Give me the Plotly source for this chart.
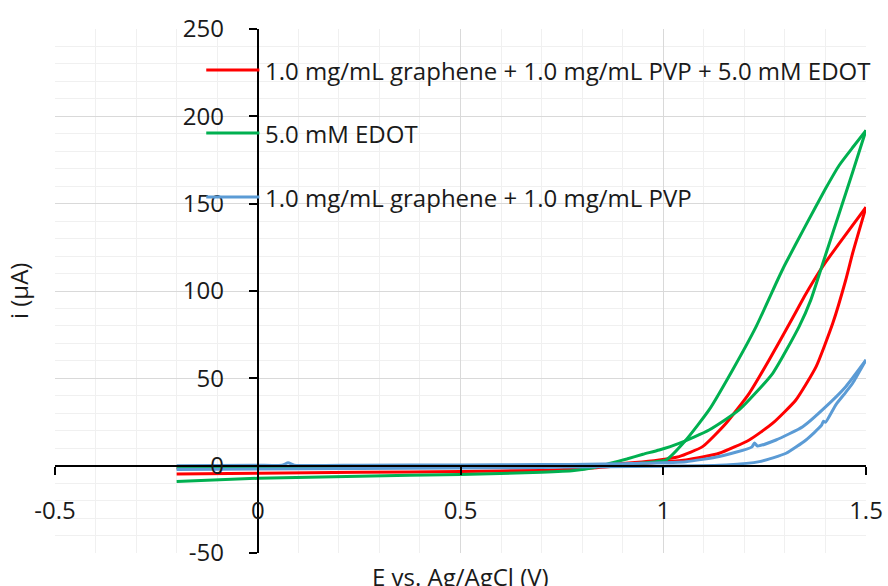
import plotly.graph_objects as go

# ---------------- data ----------------
names = [
    "1.0 mg/mL graphene + 1.0 mg/mL PVP + 5.0 mM EDOT",
    "5.0 mM EDOT",
    "1.0 mg/mL graphene + 1.0 mg/mL PVP",
]
colors = ["#FF0000", "#00B050", "#5B9BD5"]

# red: graphene + PVP + EDOT (forward then reverse sweep)
red_fwd_x = [-0.2, 0.0, 0.25, 0.5, 0.7, 0.8, 0.87, 0.93, 0.99, 1.056, 1.138, 1.212, 1.27, 1.327, 1.377, 1.418, 1.45, 1.467, 1.5]
red_fwd_y = [-4.8, -4.3, -3.8, -3.3, -2.7, -1.8, -0.5, 0.8, 2.0, 3.3, 7.1, 14.7, 24.3, 37.6, 56.7, 81.5, 106.3, 121.6, 148.0]
red_rev_x = [1.5, 1.434, 1.393, 1.372, 1.348, 1.319, 1.261, 1.212, 1.155, 1.097, 1.039, 0.99, 0.93, 0.87, 0.8, 0.6, 0.4, 0.2, 0.0, -0.2]
red_rev_y = [148.0, 127.3, 114.0, 106.3, 96.8, 84.5, 60.5, 41.4, 24.3, 10.9, 5.2, 3.3, 1.8, 0.8, 0.2, -0.2, -0.5, -0.8, -1.0, -1.3]

# green: EDOT only
green_fwd_x = [-0.2, 0.0, 0.25, 0.5, 0.7, 0.78, 0.83, 0.87, 0.91, 0.95, 0.99, 1.039, 1.113, 1.187, 1.27, 1.335, 1.364, 1.4, 1.434, 1.467, 1.5]
green_fwd_y = [-9.0, -7.2, -6.0, -5.0, -3.8, -2.8, -1.0, 1.4, 3.8, 6.5, 9.0, 12.8, 20.4, 31.9, 52.9, 79.6, 94.9, 120.5, 144.5, 168.0, 192.0]
green_rev_x = [1.5, 1.47, 1.434, 1.4, 1.35, 1.3, 1.282, 1.229, 1.171, 1.113, 1.056, 1.007, 0.95, 0.88, 0.8, 0.5, 0.25, 0.0, -0.2]
green_rev_y = [192.0, 183.0, 172.0, 158.5, 137.0, 115.0, 106.3, 79.6, 54.8, 31.9, 14.7, 3.3, 1.5, 0.3, -0.3, -0.8, -1.0, -1.0, -1.2]

# blue: graphene + PVP
blue_fwd_x = [-0.2, 0.0, 0.25, 0.5, 0.7, 0.85, 1.0, 1.155, 1.237, 1.303, 1.352, 1.39, 1.395, 1.4, 1.426, 1.45, 1.467, 1.5]
blue_fwd_y = [-2.2, -1.9, -1.6, -1.3, -1.0, -0.6, -0.3, 0.4, 2.3, 7.1, 14.7, 23.0, 25.5, 24.8, 35.0, 42.0, 47.2, 60.5]
blue_rev_x = [1.5, 1.45, 1.401, 1.344, 1.278, 1.232, 1.225, 1.218, 1.138, 1.056, 0.95, 0.85, 0.7, 0.5, 0.25, 0.09, 0.075, 0.06, 0.0, -0.2]
blue_rev_y = [60.5, 45.2, 33.8, 22.3, 14.7, 11.3, 13.0, 10.6, 5.2, 2.3, 1.4, 0.9, 0.6, 0.4, 0.3, 0.3, 1.6, 0.3, 0.2, 0.0]

x_ticks = [-0.5, 0, 0.5, 1, 1.5]
x_ticklabels = ["-0.5", "0", "0.5", "1", "1.5"]
y_ticks = [-50, 0, 50, 100, 150, 200, 250]
y_ticklabels = ["-50", "0", "50", "100", "150", "200", "250"]
x_title = "E vs. Ag/AgCl (V)"
y_title = "i (μA)"
legend_y = [226.5, 190.4, 153.8]

series = [
    [(red_fwd_x, red_fwd_y), (red_rev_x, red_rev_y)],
    [(green_fwd_x, green_fwd_y), (green_rev_x, green_rev_y)],
    [(blue_fwd_x, blue_fwd_y), (blue_rev_x, blue_rev_y)],
]

FONT = "Open Sans"
FS = 24
TXT = "#1a1a1a"

fig = go.Figure()
for branches, name, c in zip(series, names, colors):
    for xs, ys in branches:
        fig.add_trace(go.Scatter(x=xs, y=ys, mode="lines", name=name,
                                 line=dict(color=c, width=3, shape="spline", smoothing=0.5),
                                 showlegend=False))

# legend drawn inside the plot, as in the reference
for name, c, ly in zip(names, colors, legend_y):
    fig.add_shape(type="line", x0=-0.127, x1=0.004, y0=ly, y1=ly,
                  xref="x", yref="y", line=dict(color=c, width=3))
    fig.add_annotation(x=0.014, y=ly, xref="x", yref="y", text=name,
                       showarrow=False, xanchor="left", yanchor="middle",
                       font=dict(family=FONT, size=FS, color=TXT))

fig.add_annotation(x=0.5, y=-0.045, xref="paper", yref="paper", text=x_title,
                   showarrow=False, xanchor="center", yanchor="middle",
                   font=dict(family=FONT, size=FS, color=TXT))
fig.add_annotation(x=-0.0456, y=0.5, xref="paper", yref="paper", text=y_title,
                   showarrow=False, xanchor="center", yanchor="middle", textangle=-90,
                   font=dict(family=FONT, size=FS, color=TXT))

fig.update_layout(
    width=888, height=586,
    margin=dict(l=55, r=22, t=29, b=33, autoexpand=False),
    paper_bgcolor="white", plot_bgcolor="white",
    font=dict(family=FONT, size=FS, color=TXT),
    showlegend=False,
    xaxis=dict(range=[-0.5, 1.5], tickvals=x_ticks, ticktext=x_ticklabels,
               showgrid=True, gridcolor="#D9D9D9", gridwidth=1,
               minor=dict(dtick=0.1, tick0=-0.5, showgrid=True, gridcolor="#F0F0F0", gridwidth=1),
               zeroline=False, anchor="free", position=50 / 300, automargin=False,
               showline=True, linecolor="black", linewidth=2,
               ticks="outside", ticklen=8, tickwidth=2, tickcolor="black",
               ticklabelstandoff=16,
               tickfont=dict(family=FONT, size=FS, color=TXT)),
    yaxis=dict(range=[-50, 250], tickvals=y_ticks, ticktext=y_ticklabels,
               domain=[0, 1],
               showgrid=True, gridcolor="#D9D9D9", gridwidth=1,
               minor=dict(dtick=10, tick0=0, showgrid=True, gridcolor="#F0F0F0", gridwidth=1),
               zeroline=False, anchor="free", position=0.25, automargin=False,
               showline=True, linecolor="black", linewidth=2,
               ticks="outside", ticklen=8, tickwidth=2, tickcolor="black",
               ticklabelstandoff=20,
               tickfont=dict(family=FONT, size=FS, color=TXT)),
)

fig.write_html("out.html")
